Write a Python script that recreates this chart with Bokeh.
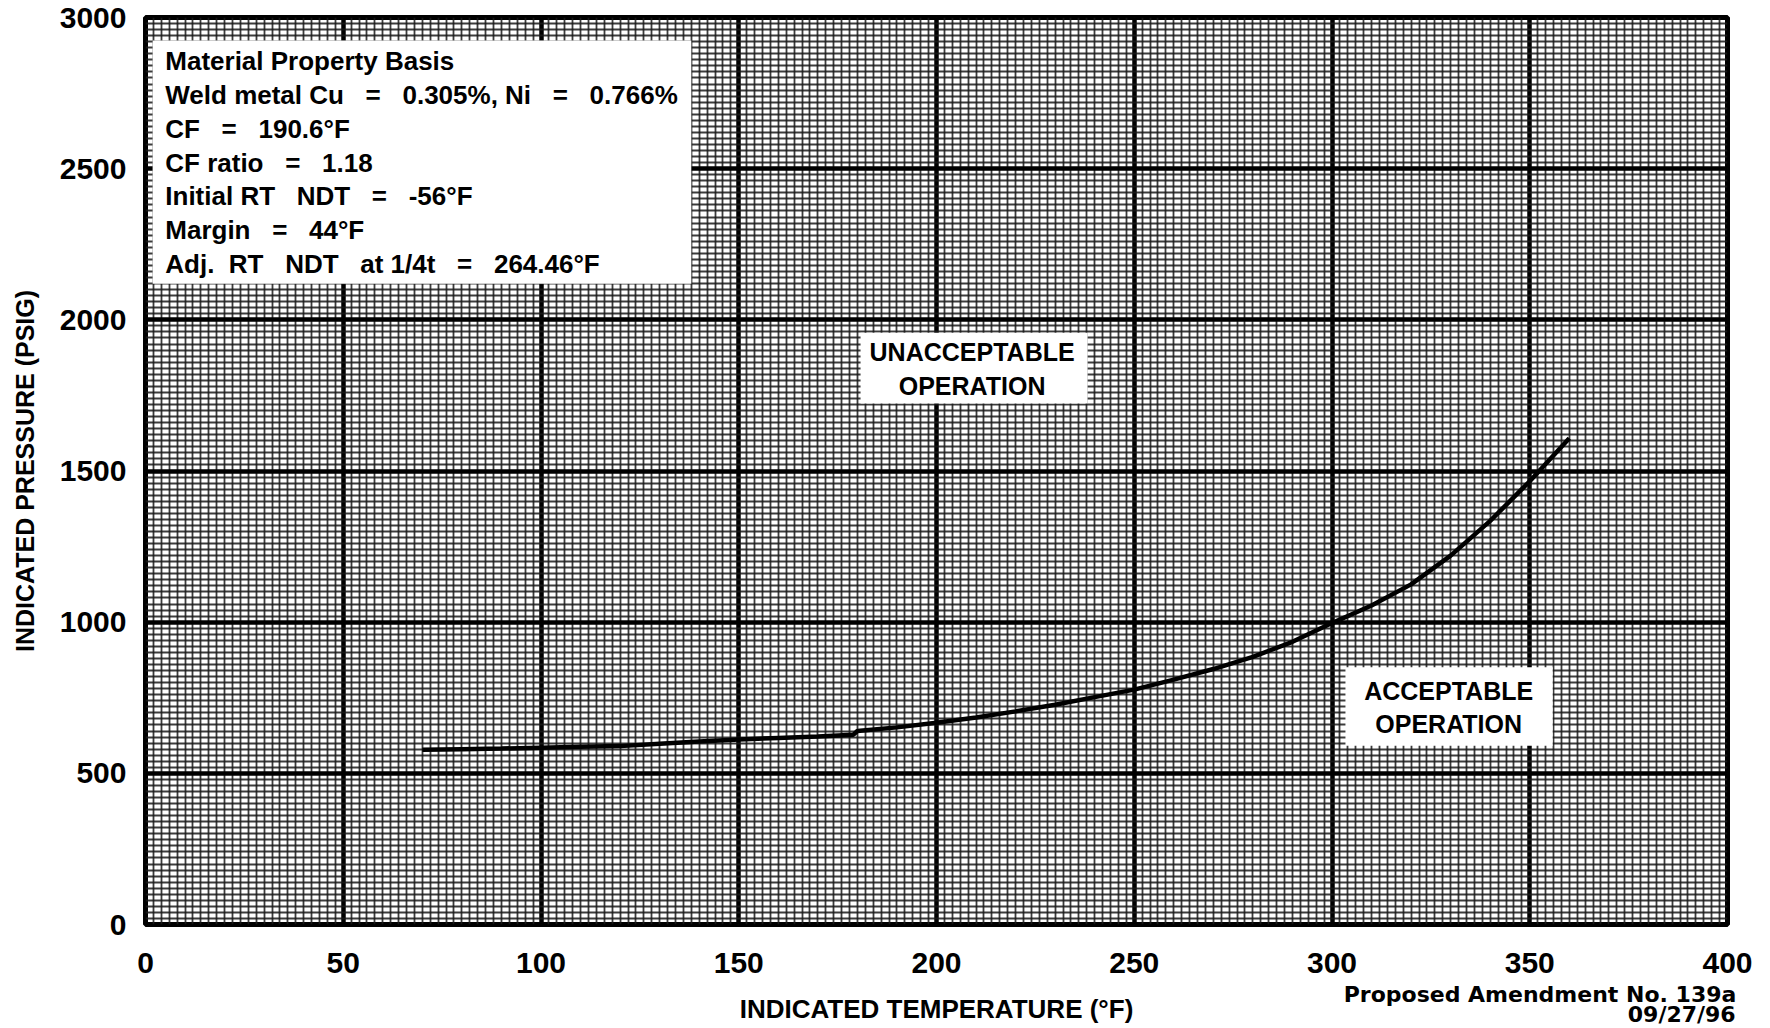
from bokeh.plotting import figure
from bokeh.models import (Range1d, SingleIntervalTicker, FixedTicker, BoxAnnotation, Label,
                          ColumnDataSource, LinearAxis)
from bokeh.embed import file_html
from bokeh.resources import INLINE

# ---- data ----
temperature_f = [70, 80, 90, 100, 110, 120, 130, 140, 150, 160, 170, 179, 180, 190, 200,
                 210, 220, 230, 240, 250, 260, 270, 280, 290, 300, 310, 320, 330, 340, 350, 360]
pressure_psig = [578, 580, 582, 585, 588, 590, 598, 605, 612, 617, 622, 628, 640, 652, 667,
                 685, 705, 727, 752, 777, 810, 845, 885, 935, 997, 1055, 1125, 1220, 1335, 1466, 1608]

x_tick_step = 50
y_tick_step = 500

NB = "\u00a0"
basis_lines = [
    "Material Property Basis",
    f"Weld metal Cu{NB*3}={NB*3}0.305%, Ni{NB*3}={NB*3}0.766%",
    f"CF{NB*3}={NB*3}190.6°F",
    f"CF ratio{NB*3}={NB*3}1.18",
    f"Initial RT{NB*3}NDT{NB*3}={NB*3}-56°F",
    f"Margin{NB*3}={NB*3}44°F",
    f"Adj.{NB*2}RT{NB*3}NDT{NB*3}at 1/4t{NB*3}={NB*3}264.46°F",
]
basis_y = [2855, 2743, 2630, 2518, 2409, 2297, 2185]

region_text = ["UNACCEPTABLE", "OPERATION", "ACCEPTABLE", "OPERATION"]
region_x = [209, 209, 329.5, 329.5]
region_y = [1894, 1782, 772, 663]

footer_lines = ["Proposed Amendment No. 139a", "09/27/96"]

FONT = "Liberation Sans"
FOOT_FONT = "DejaVu Sans"

p = figure(width=1768, height=1026, output_backend="svg", toolbar_location=None,
           x_range=Range1d(0, 400), y_range=Range1d(0, 3000),
           min_border_left=145, min_border_right=41, min_border_top=17, min_border_bottom=100,
           background_fill_color="white", border_fill_color="white")

# main axes
p.xaxis[0].ticker = SingleIntervalTicker(interval=x_tick_step, num_minor_ticks=25)
p.yaxis[0].ticker = SingleIntervalTicker(interval=y_tick_step, num_minor_ticks=25)
p.xgrid.ticker = SingleIntervalTicker(interval=x_tick_step, num_minor_ticks=25)
p.ygrid.ticker = SingleIntervalTicker(interval=y_tick_step, num_minor_ticks=25)


def style_axis(ax):
    ax.axis_line_color = None
    ax.major_tick_line_color = None
    ax.minor_tick_line_color = None
    ax.major_label_text_font = FONT
    ax.major_label_text_font_style = "bold"
    ax.major_label_text_font_size = "30px"
    ax.major_label_text_color = "black"
    ax.axis_label_text_font = FONT
    ax.axis_label_text_font_style = "bold"
    ax.axis_label_text_font_size = "26px"
    ax.axis_label_text_color = "black"


style_axis(p.xaxis[0])
style_axis(p.yaxis[0])
p.xaxis[0].major_label_standoff = 22
p.yaxis[0].major_label_standoff = 13
p.yaxis[0].axis_label = "INDICATED PRESSURE (PSIG)"
p.yaxis[0].axis_label_text_font_size = "25px"
p.yaxis[0].axis_label_standoff = 18

# second (label-only) bottom axis carrying the axis title and the footer note
foot_x = 352.6
pad = NB * 37
bottom2 = LinearAxis(ticker=FixedTicker(ticks=[foot_x], minor_ticks=[]),
                     major_label_overrides={foot_x: footer_lines[0] + "\n" + pad + footer_lines[1]})
style_axis(bottom2)
bottom2.major_label_text_font = FOOT_FONT
bottom2.major_label_text_font_size = "22px"
bottom2.major_label_text_line_height = 0.8
bottom2.major_label_standoff = 0
bottom2.axis_label = "INDICATED TEMPERATURE (°F)"
bottom2.axis_label_standoff = -36
p.add_layout(bottom2, "below")

# grid
for g in (p.xgrid[0], p.ygrid[0]):
    g.grid_line_color = "black"
    g.grid_line_width = 4.5
    g.grid_line_alpha = 1.0
    g.minor_grid_line_color = "#1a1a1a"
    g.minor_grid_line_width = 1.8
    g.minor_grid_line_alpha = 0.85

p.outline_line_color = "black"
p.outline_line_width = 5

# curve
src = ColumnDataSource(dict(t=temperature_f, p=pressure_psig))
p.line("t", "p", source=src, line_color="black", line_width=4.5)

# white boxes
for l, r, b, t in [(1.8, 138, 2119, 2924), (180.8, 238.2, 1723, 1957), (303.4, 355.8, 591, 851)]:
    p.add_layout(BoxAnnotation(left=l, right=r, bottom=b, top=t, fill_color="white",
                               fill_alpha=1, line_color=None, level="annotation"))

for txt, yy in zip(basis_lines, basis_y):
    p.add_layout(Label(x=5, y=yy, text=txt, text_font=FONT, text_font_style="bold",
                       text_font_size="26px", text_baseline="middle", text_align="left",
                       text_color="black"))

for txt, xx, yy in zip(region_text, region_x, region_y):
    p.add_layout(Label(x=xx, y=yy, text=txt, text_font=FONT, text_font_style="bold",
                       text_font_size="25px", text_baseline="middle", text_align="center",
                       text_color="black"))

open("out.html", "w").write(file_html(p, INLINE))
